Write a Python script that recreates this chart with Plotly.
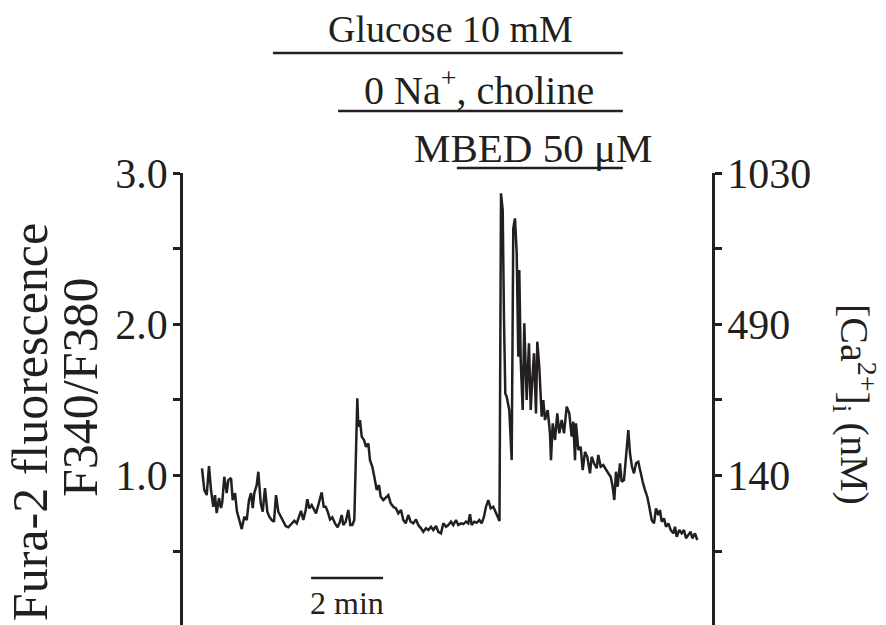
import plotly.graph_objects as go

# ---- data (time in minutes, Fura-2 ratio F340/F380) ----
time_min = [
    0.00, 0.064, 0.131, 0.194, 0.25, 0.314, 0.361, 0.408, 0.472, 0.528, 0.564, 0.619, 0.686, 0.731,
    0.806, 0.853, 0.917, 0.972, 1.036, 1.103, 1.175, 1.242, 1.306, 1.361, 1.408, 1.453, 1.519, 1.564,
    1.631, 1.686, 1.75, 1.814, 1.869, 1.936, 2.0, 2.056, 2.119, 2.194, 2.258, 2.325, 2.397, 2.492,
    2.564, 2.631, 2.694, 2.75, 2.814, 2.881, 2.925, 2.981, 3.047, 3.111, 3.167, 3.231, 3.278, 3.325,
    3.381, 3.436, 3.492, 3.556, 3.619, 3.694, 3.769, 3.833, 3.881, 3.925, 3.992, 4.064, 4.119, 4.175,
    4.231, 4.278, 4.314, 4.342, 4.389, 4.436, 4.5, 4.556, 4.619, 4.667, 4.731, 4.786, 4.853, 4.917,
    4.964, 5.036, 5.111, 5.175, 5.242, 5.314, 5.389, 5.453, 5.528, 5.592, 5.658, 5.731, 5.797, 5.869,
    5.944, 6.008, 6.083, 6.147, 6.222, 6.286, 6.361, 6.425, 6.5, 6.564, 6.639, 6.703, 6.778, 6.842,
    6.917, 6.981, 7.056, 7.119, 7.194, 7.258, 7.333, 7.397, 7.444, 7.492, 7.564, 7.631, 7.703, 7.769,
    7.833, 7.889, 7.953, 8.019, 8.092, 8.167, 8.231, 8.264, 8.306, 8.353, 8.389, 8.425, 8.464, 8.536,
    8.603, 8.619, 8.647, 8.694, 8.742, 8.786, 8.814, 8.853, 8.908, 8.953, 9.019, 9.083, 9.131, 9.175,
    9.222, 9.278, 9.314, 9.369, 9.436, 9.481, 9.528, 9.603, 9.667, 9.694, 9.742, 9.806, 9.869, 9.925,
    9.992, 10.056, 10.131, 10.203, 10.269, 10.314, 10.361, 10.389, 10.453, 10.519, 10.575, 10.639,
    10.703, 10.778, 10.825, 10.889, 10.964, 11.008, 11.075, 11.147, 11.222, 11.286, 11.353, 11.408,
    11.453, 11.5, 11.547, 11.611, 11.658, 11.722, 11.778, 11.842, 11.889, 11.944, 12.0, 12.056,
    12.119, 12.186, 12.242, 12.306, 12.369, 12.425, 12.492, 12.556, 12.611, 12.675, 12.722, 12.769,
    12.833, 12.889, 12.953, 13.019, 13.092, 13.139, 13.186, 13.258, 13.325, 13.389, 13.444, 13.508,
    13.575, 13.619, 13.694, 13.758,
]
ratio = [
    1.048, 0.904, 0.871, 1.063, 0.904, 0.794, 0.871, 0.752, 0.851, 0.785, 0.827, 0.992, 0.884, 0.970,
    0.983, 0.838, 0.884, 0.761, 0.706, 0.646, 0.728, 0.706, 0.838, 0.884, 0.785, 0.884, 0.937, 1.025,
    0.818, 0.761, 0.917, 0.761, 0.728, 0.706, 0.695, 0.871, 0.761, 0.728, 0.695, 0.666, 0.658, 0.684,
    0.701, 0.684, 0.724, 0.767, 0.706, 0.772, 0.843, 0.783, 0.805, 0.772, 0.750, 0.805, 0.851, 0.889,
    0.794, 0.794, 0.761, 0.710, 0.724, 0.684, 0.658, 0.695, 0.739, 0.673, 0.695, 0.772, 0.673, 0.673,
    0.706, 1.102, 1.510, 1.323, 1.367, 1.257, 1.235, 1.190, 1.213, 1.102, 1.058, 0.992, 0.904, 0.937,
    0.860, 0.838, 0.860, 0.871, 0.816, 0.794, 0.783, 0.750, 0.772, 0.706, 0.684, 0.739, 0.695, 0.684,
    0.710, 0.673, 0.651, 0.628, 0.651, 0.640, 0.661, 0.640, 0.666, 0.628, 0.618, 0.684, 0.661, 0.673,
    0.695, 0.673, 0.706, 0.673, 0.684, 0.679, 0.695, 0.684, 0.745, 0.673, 0.695, 0.688, 0.706, 0.684,
    0.728, 0.794, 0.838, 0.783, 0.794, 0.750, 0.717, 0.700, 2.866, 2.755, 2.028, 1.543, 1.521, 1.433,
    1.102, 2.072, 2.634, 2.700, 2.469, 1.785, 2.359, 1.764, 1.433, 2.006, 1.499, 1.874, 1.433, 1.631,
    1.808, 1.411, 1.885, 1.719, 1.389, 1.499, 1.367, 1.433, 1.279, 1.102, 1.345, 1.235, 1.411, 1.279,
    1.367, 1.279, 1.455, 1.411, 1.257, 1.356, 1.102, 1.345, 1.169, 1.190, 1.036, 1.157,
    1.124, 1.015, 1.124, 1.081, 1.048, 1.136, 1.058, 1.069, 1.036, 1.015, 0.992, 0.926,
    0.838, 1.025, 0.926, 1.081, 0.959, 0.970, 1.124, 1.301, 1.147, 1.058, 1.015, 1.081,
    1.091, 1.015, 0.959, 0.904, 0.860, 0.794, 0.706, 0.684, 0.783, 0.739, 0.772, 0.695,
    0.717, 0.661, 0.684, 0.640, 0.618, 0.661, 0.595, 0.640, 0.618, 0.640, 0.585, 0.607,
    0.628, 0.585, 0.618, 0.574,
]

# tick values / labels
ratio_tickvals = [0.5, 1.0, 1.5, 2.0, 2.5, 3.0]
ratio_ticktext = ["", "1.0", "", "2.0", "", "3.0"]
ca_ticktext = ["", "140", "", "490", "", "1030"]

# application periods (minutes)
treatments = [
    ("Glucose 10 mM", 1.97, 11.69),
    ("0 Na<sup>+</sup>, choline", 3.78, 11.69),
    ("MBED 50 μM", 7.08, 11.69),
]
scalebar_start, scalebar_len = 3.03, 2.0

INK = "#231f20"
FONT = "Liberation Serif"

fig = go.Figure()
fig.add_trace(go.Scatter(x=time_min, y=ratio, mode="lines",
                         line=dict(color=INK, width=2.5), showlegend=False, hoverinfo="skip"))
# invisible trace to activate right axis
fig.add_trace(go.Scatter(x=[time_min[0]], y=[ratio[0]], yaxis="y2", mode="markers",
                         marker=dict(opacity=0), showlegend=False, hoverinfo="skip"))

yr = [0.012, 3.0]
axis_common = dict(range=yr, tickvals=ratio_tickvals, ticks="outside", ticklen=7, tickwidth=2.5,
                   tickcolor=INK, showline=True, linecolor=INK, linewidth=2.5, showgrid=False,
                   zeroline=False, tickfont=dict(family=FONT, size=42, color=INK),
                   ticklabelstandoff=-3)

fig.update_layout(
    width=886, height=625,
    margin=dict(l=183, r=174, t=173, b=0),
    paper_bgcolor="white", plot_bgcolor="white",
    xaxis=dict(range=[-0.528, 14.167], visible=False),
    yaxis=dict(ticktext=ratio_ticktext, **axis_common),
    yaxis2=dict(overlaying="y", side="right", ticktext=ca_ticktext, **axis_common),
)

# treatment bars and labels (y in paper units above the plot)
bar_y = [1.2655, 1.137, 1.011]
label_y = [1.318, 1.19, 1.056]
label_x = [6.9, 7.7, 9.2]
label_size = [38, 40, 41]
for (name, t0, t1), by, ly, lx, ls in zip(treatments, bar_y, label_y, label_x, label_size):
    fig.add_shape(type="line", xref="x", yref="paper", x0=t0, x1=t1, y0=by, y1=by,
                  line=dict(color=INK, width=2.5))
    fig.add_annotation(text=name, xref="x", yref="paper", x=lx, y=ly, xanchor="center",
                       yanchor="middle", showarrow=False,
                       font=dict(family=FONT, size=ls, color=INK))

# scale bar
fig.add_shape(type="line", xref="x", yref="y", x0=scalebar_start, x1=scalebar_start + scalebar_len,
              y0=0.322, y1=0.322, line=dict(color=INK, width=2.5))
fig.add_annotation(text="2 min", xref="x", yref="y", x=scalebar_start + scalebar_len / 2, y=0.157,
                   xanchor="center", yanchor="middle",
                   showarrow=False, font=dict(family=FONT, size=32, color=INK))

# axis titles
fig.add_annotation(text="Fura-2 fluorescence", xref="paper", yref="paper", x=-0.289, y=0.449,
                   xanchor="center", yanchor="middle",
                   textangle=-90, showarrow=False, font=dict(family=FONT, size=50, color=INK))
fig.add_annotation(text="F340/F380", xref="paper", yref="paper", x=-0.1947, y=0.5265,
                   xanchor="center", yanchor="middle",
                   textangle=-90, showarrow=False, font=dict(family=FONT, size=50, color=INK))
fig.add_annotation(text="[Ca<sup>2+</sup>]<sub>i</sub> (nM)", xref="paper", yref="paper",
                   x=1.2703, y=0.487, xanchor="center", yanchor="middle", textangle=90,
                   showarrow=False, font=dict(family=FONT, size=40, color=INK))

fig.write_html("out.html")
